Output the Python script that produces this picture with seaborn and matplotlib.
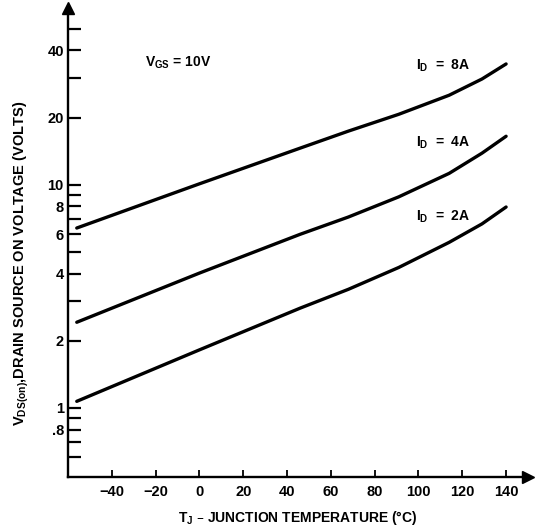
import numpy as np
import pandas as pd
import matplotlib
matplotlib.use("Agg")
import matplotlib.pyplot as plt
import matplotlib.ticker as mticker
import seaborn as sns

# ---- data ----
temp_8a = [-56, 0, 46, 68, 91, 114, 129, 140]
vds_8a = [6.4, 10.1, 14.6, 17.4, 20.7, 25.2, 29.8, 34.8]
temp_4a = [-56, 0, 46, 68, 91, 114, 129, 140]
vds_4a = [2.42, 4.02, 6.0, 7.17, 8.83, 11.25, 13.86, 16.5]
temp_2a = [-56, 0, 46, 68, 91, 114, 129, 140]
vds_2a = [1.07, 1.82, 2.8, 3.40, 4.26, 5.52, 6.68, 7.95]
series_names = ["ID = 8A", "ID = 4A", "ID = 2A"]
series_labels = ["8A", "4A", "2A"]

x_ticks = [-40, -20, 0, 20, 40, 60, 80, 100, 120, 140]
y_major = [0.8, 1, 2, 4, 6, 8, 10, 20, 40]
y_major_labels = [".8", "1", "2", "4", "6", "8", "10", "20", "40"]
y_minor = [0.6, 0.7, 0.9, 3, 5, 7, 9, 30, 50]

rows = []
for name, xs, ys in zip(series_names, [temp_8a, temp_4a, temp_2a], [vds_8a, vds_4a, vds_2a]):
    for x, y in zip(xs, ys):
        rows.append({"T": x, "V": y, "series": name})
df = pd.DataFrame(rows)

sns.set_theme(style="white")
plt.rcParams['font.family'] = ['Liberation Sans', 'DejaVu Sans']
plt.rcParams['text.color'] = 'black'
plt.rcParams['axes.labelcolor'] = 'black'
plt.rcParams['xtick.color'] = 'black'
plt.rcParams['ytick.color'] = 'black'
plt.rcParams['lines.solid_capstyle'] = 'round'
plt.rcParams['lines.solid_joinstyle'] = 'round'

fig = plt.figure(figsize=(5.43, 5.28), dpi=100)
ax = fig.add_axes([68 / 543, 51 / 528, (528 - 68) / 543, (477 - 8) / 528])

sns.lineplot(data=df, x="T", y="V", hue="series", palette=["black"] * 3,
             linewidth=2.4, legend=False, ax=ax, sort=True)

ax.set_yscale("log")
ax.set_xlim(-60, 150)
ax.set_ylim(0.49, 62)

ax.yaxis.set_major_locator(mticker.FixedLocator(y_major))
ax.yaxis.set_major_formatter(mticker.FixedFormatter(y_major_labels))
ax.yaxis.set_minor_locator(mticker.FixedLocator(y_minor))
ax.yaxis.set_minor_formatter(mticker.NullFormatter())
ax.set_xticks(x_ticks)
ax.set_xticklabels([str(v).replace("-", "\u2212") for v in x_ticks])

ax.tick_params(axis="y", which="both", direction="in", length=9, width=1.6,
               labelsize=10.5, pad=3, left=True)
ax.tick_params(axis="x", which="both", direction="in", length=5, width=1.3,
               labelsize=10.5, pad=6, bottom=True)
for lbl in ax.get_xticklabels() + ax.get_yticklabels():
    lbl.set_fontweight("bold")
    lbl.set_color("black")

for s in ["top", "right"]:
    ax.spines[s].set_visible(False)
for s in ["left", "bottom"]:
    ax.spines[s].set_color("black")
    ax.spines[s].set_linewidth(1.7)

# arrow heads
ax.plot(0, 1.0, marker="^", markersize=9, color="black", transform=ax.transAxes, clip_on=False)
ax.plot(1.0, 0, marker=">", markersize=8, color="black", transform=ax.transAxes, clip_on=False)

ax.set_xlabel(r"T$_\mathregular{J}$ – JUNCTION TEMPERATURE (°C)", fontsize=10, fontweight="bold")
ax.set_ylabel(r"V$_\mathregular{DS(on)}$,DRAIN SOURCE ON VOLTAGE (VOLTS)", fontsize=10.5, fontweight="bold")
ax.xaxis.set_label_coords(0.5, -0.068)
ax.yaxis.set_label_coords(-0.08, 0.455)

ax.text(-25, 35.3, r"V$_\mathregular{GS}$ = 10V", fontsize=10, fontweight="bold", va="center", ha="left")
label_y = [34.2, 15.4, 7.17]
for lab, yv in zip(series_labels, label_y):
    ax.text(99, yv, r"I$_\mathregular{D}$  =  " + lab, fontsize=10,
            fontweight="bold", va="center", ha="left")

fig.savefig("out.png", dpi=100)
